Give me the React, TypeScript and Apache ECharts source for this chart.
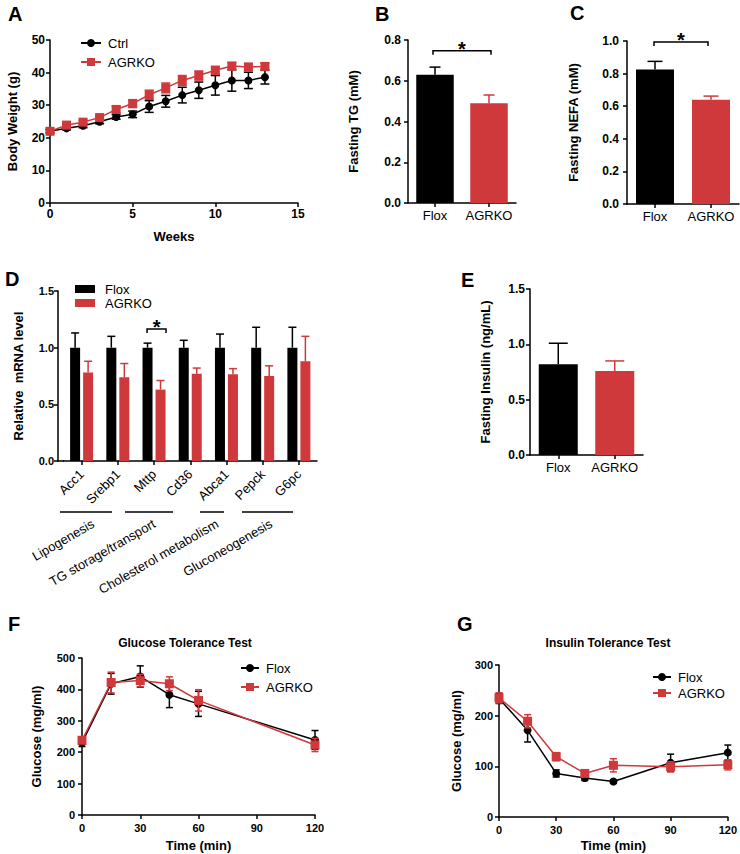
import React, { useEffect, useRef } from 'react';
import * as echarts from 'echarts';

const RED = '#d0393b';
const BLACK = '#000000';
const FONT = '"Liberation Sans", Arial, Helvetica, sans-serif';

// ---------- Panel A: body weight ----------
const weeks = [0, 1, 2, 3, 4, 5, 6, 7, 8, 9, 10, 11, 12, 13];
const ctrlWeight = [22, 22.9, 23.7, 24.9, 26.4, 27.2, 29.6, 31.2, 33.1, 34.6, 36.1, 37.6, 37.6, 38.6];
const ctrlWeightErr = [0.5, 0.5, 0.6, 0.6, 0.7, 1.0, 1.8, 1.8, 2.4, 2.5, 3.0, 3.3, 2.5, 2.1];
const agrkoWeight = [22, 23.9, 24.8, 26.2, 28.7, 30.5, 33.2, 35.3, 37.6, 39.1, 40.7, 42.0, 41.7, 41.9];
const agrkoWeightErr = [0.5, 0.6, 0.6, 0.7, 1.0, 1.2, 1.4, 1.5, 1.5, 1.4, 1.2, 1.1, 1.1, 1.0];

// ---------- Panels B, C, E ----------
const groups = ['Flox', 'AGRKO'];
const groupColors = [BLACK, RED];
const tgValues = [0.63, 0.49];
const tgErr = [0.037, 0.04];
const nefaValues = [0.825, 0.64];
const nefaErr = [0.05, 0.022];
const insulinValues = [0.82, 0.76];
const insulinErr = [0.19, 0.09];

// ---------- Panel D ----------
const genes = ['Acc1', 'Srebp1', 'Mttp', 'Cd36', 'Abca1', 'Pepck', 'G6pc'];
const floxMrna = [1, 1, 1, 1, 1, 1, 1];
const floxMrnaErr = [0.13, 0.10, 0.04, 0.065, 0.12, 0.18, 0.18];
const agrkoMrna = [0.78, 0.74, 0.63, 0.77, 0.765, 0.75, 0.88];
const agrkoMrnaErr = [0.10, 0.12, 0.08, 0.05, 0.05, 0.09, 0.22];
const pathwayNames = ['Lipogenesis', 'TG storage/transport', 'Cholesterol metabolism', 'Gluconeogenesis'];

// ---------- Panel F: GTT ----------
const gttTimes = [0, 15, 30, 45, 60, 120];
const floxGtt = [230, 418, 441, 383, 354, 239];
const floxGttErr = [12, 33, 34, 41, 40, 30];
const agrkoGtt = [238, 422, 428, 418, 365, 223];
const agrkoGttErr = [8, 33, 20, 22, 34, 21];

// ---------- Panel G: ITT ----------
const ittTimes = [0, 15, 30, 45, 60, 90, 120];
const floxItt = [234, 171, 86, 77, 70, 107, 127];
const floxIttErr = [10, 23, 7, 5, 3, 17, 15];
const agrkoItt = [235, 189, 119, 86, 102, 99, 103];
const agrkoIttErr = [10, 13, 8, 4, 13, 10, 10];

const pairs = (xs: number[], ys: number[]) => xs.map((x, i) => [x, ys[i]]);
const triples = (xs: number[], ys: number[], es: number[]) => xs.map((x, i) => [x, ys[i], es[i]]);
const idxTriples = (ys: number[], es: number[]) => ys.map((y, i) => [i, y, es[i]]);

function errorBars(
  xAxisIndex: number,
  data: number[][],
  opts: { colors: string[] | string; cap: number; upOnly?: boolean; offset?: number; z?: number }
) {
  const { colors, cap, upOnly = false, offset = 0, z = 3 } = opts;
  return {
    type: 'custom',
    xAxisIndex,
    yAxisIndex: xAxisIndex,
    silent: true,
    z,
    encode: { x: 0, y: 1 },
    data,
    renderItem: (params: any, api: any) => {
      const x = api.value(0);
      const y = api.value(1);
      const e = api.value(2);
      const c = Array.isArray(colors) ? colors[params.dataIndex] : colors;
      const top = api.coord([x, y + e]);
      const mid = api.coord([x, y]);
      const bot = upOnly ? mid : api.coord([x, y - e]);
      const px = top[0] + offset;
      const st = { stroke: c, lineWidth: 1.5 };
      const children: any[] = [
        { type: 'line', shape: { x1: px, y1: top[1], x2: px, y2: bot[1] }, style: st },
        { type: 'line', shape: { x1: px - cap / 2, y1: top[1], x2: px + cap / 2, y2: top[1] }, style: st },
      ];
      if (!upOnly) {
        children.push({ type: 'line', shape: { x1: px - cap / 2, y1: bot[1], x2: px + cap / 2, y2: bot[1] }, style: st });
      }
      return { type: 'group', children };
    },
  };
}

function bracket(xAxisIndex: number, x1: number, x2: number, y: number, dx1: number, dx2: number) {
  return {
    type: 'custom',
    xAxisIndex,
    yAxisIndex: xAxisIndex,
    silent: true,
    encode: { x: [0, 1], y: 2 },
    data: [[x1, x2, y]],
    renderItem: (params: any, api: any) => {
      const p1 = api.coord([api.value(0), api.value(2)]);
      const p2 = api.coord([api.value(1), api.value(2)]);
      const l = p1[0] + dx1;
      const r = p2[0] + dx2;
      const yy = p1[1];
      return {
        type: 'group',
        children: [
          {
            type: 'polyline',
            shape: { points: [[l, yy + 4], [l, yy], [r, yy], [r, yy + 4]] },
            style: { stroke: BLACK, lineWidth: 1.5, fill: 'none' },
          },
          {
            type: 'text',
            x: (l + r) / 2,
            y: yy - 2,
            style: {
              text: '*',
              fontSize: 20,
              fontWeight: 'bold',
              fontFamily: FONT,
              fill: BLACK,
              align: 'center',
              verticalAlign: 'middle',
              textAlign: 'center',
              textVerticalAlign: 'middle',
            },
          },
        ],
      };
    },
  };
}

const axisBase = (labelSize: number, margin: number) => ({
  axisLine: { show: true, onZero: false, lineStyle: { color: BLACK, width: 1.5 } },
  axisTick: { show: true, length: 4, lineStyle: { color: BLACK, width: 1.5 } },
  axisLabel: { color: BLACK, fontFamily: FONT, fontWeight: 'bold', fontSize: labelSize, margin },
  splitLine: { show: false },
  nameTextStyle: { color: BLACK, fontFamily: FONT, fontWeight: 'bold', fontSize: 13 },
});

const catAxis = (gridIndex: number, data: string[], extra: any = {}) => ({
  gridIndex,
  type: 'category',
  data,
  ...axisBase(13, 6),
  axisTick: { show: true, alignWithLabel: true, length: 4, lineStyle: { color: BLACK, width: 1.5 } },
  axisLabel: { color: BLACK, fontFamily: FONT, fontWeight: 'normal', fontSize: 13, margin: 6, interval: 0, hideOverlap: false },
  ...extra,
});

const valAxisY = (gridIndex: number, max: number, interval: number, name: string, nameGap: number, digits: number, labelSize = 12, margin = 6, extra: any = {}) => {
  const base = axisBase(labelSize, margin);
  return {
    gridIndex,
    type: 'value',
    min: 0,
    max,
    interval,
    name,
    nameLocation: 'middle',
    nameGap,
    ...base,
    axisLabel: { ...base.axisLabel, formatter: (v: number) => v.toFixed(digits) },
    ...extra,
  };
};

const lineSeries = (name: string, xAxisIndex: number, data: number[][], color: string, symbol: string, symbolSize: number) => ({
  type: 'line',
  name,
  xAxisIndex,
  yAxisIndex: xAxisIndex,
  data,
  symbol,
  symbolSize,
  z: 4,
  lineStyle: { color, width: 1.5 },
  itemStyle: { color },
  silent: true,
});

const legendText = (size: number, lh: number, pad = 0) => ({
  color: BLACK,
  fontFamily: FONT,
  fontSize: size,
  lineHeight: lh,
  padding: [0, 0, 0, pad],
});

const letter = (t: string, x: number, y: number) => ({
  type: 'text',
  x,
  y,
  style: {
    text: t,
    fill: BLACK,
    fontFamily: FONT,
    fontWeight: 'bold',
    fontSize: 20,
    align: 'left',
    verticalAlign: 'middle',
    textAlign: 'left',
    textVerticalAlign: 'middle',
  },
});

const plainText = (t: string, x: number, y: number, opts: any = {}) => ({
  type: 'text',
  x,
  y,
  rotation: opts.rotation || 0,
  style: {
    text: t,
    fill: BLACK,
    fontFamily: FONT,
    fontWeight: opts.bold ? 'bold' : 'normal',
    fontSize: opts.size || 12,
    align: opts.align || 'center',
    verticalAlign: opts.valign || 'middle',
    textAlign: opts.align || 'center',
    textVerticalAlign: opts.valign || 'middle',
  },
});

const hLine = (x1: number, x2: number, y: number) => ({
  type: 'line',
  shape: { x1, y1: y, x2, y2: y },
  style: { stroke: BLACK, lineWidth: 1.5 },
});

export default function App() {
  const ref = useRef<HTMLDivElement>(null);

  useEffect(() => {
    if (!ref.current) return;
    const chart = echarts.init(ref.current, undefined, { renderer: 'svg' });
    const rot = (30 * Math.PI) / 180;
    const pathwayAnchors = [
      [90, 517],
      [151, 517],
      [214, 517],
      [268, 517],
    ];
    const pathwayLines = [
      [60, 112],
      [125, 173],
      [200, 224],
      [242, 293],
    ];

    const option: any = {
      animation: false,
      backgroundColor: '#ffffff',
      grid: [
        { left: 50, top: 40, width: 248, height: 163 },
        { left: 408, top: 40, width: 108, height: 163 },
        { left: 627, top: 41, width: 112, height: 163 },
        { left: 63.5, top: 291, width: 253.5, height: 170 },
        { left: 530, top: 289, width: 113, height: 166 },
        { left: 82, top: 658, width: 233, height: 157 },
        { left: 499, top: 665, width: 229, height: 152 },
      ],
      xAxis: [
        { gridIndex: 0, type: 'value', min: 0, max: 15, interval: 5, name: 'Weeks', nameLocation: 'middle', nameGap: 27, ...axisBase(12, 5) },
        catAxis(1, groups),
        catAxis(2, groups),
        catAxis(3, genes, {
          axisLabel: { color: BLACK, fontFamily: FONT, fontWeight: 'normal', fontSize: 13, margin: 11, rotate: 45, interval: 0, hideOverlap: false },
        }),
        catAxis(4, groups),
        { gridIndex: 5, type: 'value', min: 0, max: 120, interval: 30, name: 'Time (min)', nameLocation: 'middle', nameGap: 24, ...axisBase(11, 7) },
        { gridIndex: 6, type: 'value', min: 0, max: 120, interval: 30, name: 'Time (min)', nameLocation: 'middle', nameGap: 22, ...axisBase(11, 7) },
      ],
      yAxis: [
        valAxisY(0, 50, 10, 'Body Weight (g)', 31, 0, 12, 5),
        valAxisY(1, 0.8, 0.2, 'Fasting TG (mM)', 48, 1, 12, 7),
        valAxisY(2, 1.0, 0.2, 'Fasting NEFA (mM)', 47, 1, 12, 8),
        valAxisY(3, 1.5, 0.5, 'Relative  mRNA level', 33, 1, 11, 4, { offset: 5.5 }),
        valAxisY(4, 1.5, 0.5, 'Fasting Insulin (ng/mL)', 38, 1, 12, 5),
        valAxisY(5, 500, 100, 'Glucose (mg/ml)', 39, 0, 11, 7),
        valAxisY(6, 300, 100, 'Glucose (mg/ml)', 36, 0, 11, 6),
      ],
      legend: [
        {
          data: ['Ctrl', 'AGRKO'],
          orient: 'vertical',
          left: 80,
          top: 35,
          padding: 0,
          itemWidth: 20,
          itemHeight: 10,
          itemGap: 3,
          selectedMode: false,
          textStyle: legendText(13, 16, 2),
        },
        {
          data: [
            { name: 'Flox', icon: 'rect', itemStyle: { color: BLACK } },
            { name: 'AGRKO', icon: 'rect', itemStyle: { color: RED } },
          ],
          orient: 'vertical',
          left: 75,
          top: 282,
          padding: 0,
          itemWidth: 20,
          itemHeight: 8,
          itemGap: 0,
          selectedMode: false,
          textStyle: legendText(13, 14, 5),
        },
        {
          data: ['Flox', 'AGRKO'],
          orient: 'vertical',
          left: 240,
          top: 660,
          padding: 0,
          itemWidth: 18,
          itemHeight: 10,
          itemGap: 3,
          selectedMode: false,
          textStyle: legendText(13, 16, 2),
        },
        {
          data: ['Flox', 'AGRKO'],
          orient: 'vertical',
          left: 652,
          top: 669,
          padding: 0,
          itemWidth: 18,
          itemHeight: 10,
          itemGap: 0,
          selectedMode: false,
          textStyle: legendText(13, 16, 2),
        },
      ],
      series: [
        // Panel A
        lineSeries('Ctrl', 0, pairs(weeks, ctrlWeight), BLACK, 'circle', 8),
        errorBars(0, triples(weeks, ctrlWeight, ctrlWeightErr), { colors: BLACK, cap: 9 }),
        lineSeries('AGRKO', 0, pairs(weeks, agrkoWeight), RED, 'rect', 9),
        errorBars(0, triples(weeks, agrkoWeight, agrkoWeightErr), { colors: RED, cap: 9, z: 5 }),
        // Panel F
        lineSeries('Flox', 5, pairs(gttTimes, floxGtt), BLACK, 'circle', 8),
        errorBars(5, triples(gttTimes, floxGtt, floxGttErr), { colors: BLACK, cap: 7 }),
        lineSeries('AGRKO', 5, pairs(gttTimes, agrkoGtt), RED, 'rect', 9),
        errorBars(5, triples(gttTimes, agrkoGtt, agrkoGttErr), { colors: RED, cap: 7, z: 5 }),
        // Panel G
        lineSeries('Flox', 6, pairs(ittTimes, floxItt), BLACK, 'circle', 8),
        errorBars(6, triples(ittTimes, floxItt, floxIttErr), { colors: BLACK, cap: 7 }),
        lineSeries('AGRKO', 6, pairs(ittTimes, agrkoItt), RED, 'rect', 9),
        errorBars(6, triples(ittTimes, agrkoItt, agrkoIttErr), { colors: RED, cap: 7, z: 5 }),
        // Panel B
        {
          type: 'bar',
          name: 'TG',
          xAxisIndex: 1,
          yAxisIndex: 1,
          barWidth: 37.5,
          silent: true,
          data: tgValues.map((v, i) => ({ value: v, itemStyle: { color: groupColors[i] } })),
        },
        errorBars(1, idxTriples(tgValues, tgErr), { colors: groupColors, cap: 11, upOnly: true }),
        bracket(1, 0, 1, 0.7475, -2, 2),
        // Panel C
        {
          type: 'bar',
          name: 'NEFA',
          xAxisIndex: 2,
          yAxisIndex: 2,
          barWidth: 38,
          silent: true,
          data: nefaValues.map((v, i) => ({ value: v, itemStyle: { color: groupColors[i] } })),
        },
        errorBars(2, idxTriples(nefaValues, nefaErr), { colors: groupColors, cap: 15, upOnly: true }),
        bracket(2, 0, 1, 0.994, -1, -3),
        // Panel D
        {
          type: 'bar',
          name: 'Flox',
          xAxisIndex: 3,
          yAxisIndex: 3,
          barWidth: 10,
          barGap: '30%',
          silent: true,
          itemStyle: { color: BLACK },
          data: floxMrna,
        },
        {
          type: 'bar',
          name: 'AGRKO',
          xAxisIndex: 3,
          yAxisIndex: 3,
          barWidth: 10,
          barGap: '30%',
          silent: true,
          itemStyle: { color: RED },
          data: agrkoMrna,
        },
        errorBars(3, idxTriples(floxMrna, floxMrnaErr), { colors: BLACK, cap: 8, upOnly: true, offset: -6.5 }),
        errorBars(3, idxTriples(agrkoMrna, agrkoMrnaErr), { colors: RED, cap: 8, upOnly: true, offset: 6.5 }),
        bracket(3, 2, 2, 1.165, -7, 12),
        // Panel E
        {
          type: 'bar',
          name: 'Insulin',
          xAxisIndex: 4,
          yAxisIndex: 4,
          barWidth: 39,
          silent: true,
          data: insulinValues.map((v, i) => ({ value: v, itemStyle: { color: groupColors[i] } })),
        },
        errorBars(4, idxTriples(insulinValues, insulinErr), { colors: groupColors, cap: 19, upOnly: true }),
      ],
      graphic: [
        letter('A', 8, 14),
        letter('B', 375, 14),
        letter('C', 570, 13),
        letter('D', 5, 279),
        letter('E', 461, 280),
        letter('F', 8, 624),
        letter('G', 457, 624),
        plainText('Glucose Tolerance Test', 185, 643, { bold: true, size: 12 }),
        plainText('Insulin Tolerance Test', 608, 643, { bold: true, size: 12 }),
        hLine(57.5, 64, 461),
        ...pathwayLines.map(([a, b]) => hLine(a, b, 512)),
        ...pathwayNames.map((n, i) =>
          plainText(n, pathwayAnchors[i][0], pathwayAnchors[i][1], { size: 13, align: 'right', valign: 'top', rotation: rot })
        ),
      ],
    };

    chart.setOption(option);
    return () => chart.dispose();
  }, []);

  return (
    <div
      ref={ref}
      style={{ position: 'absolute', left: 0, top: 0, width: 740, height: 854, background: '#fff' }}
    />
  );
}
